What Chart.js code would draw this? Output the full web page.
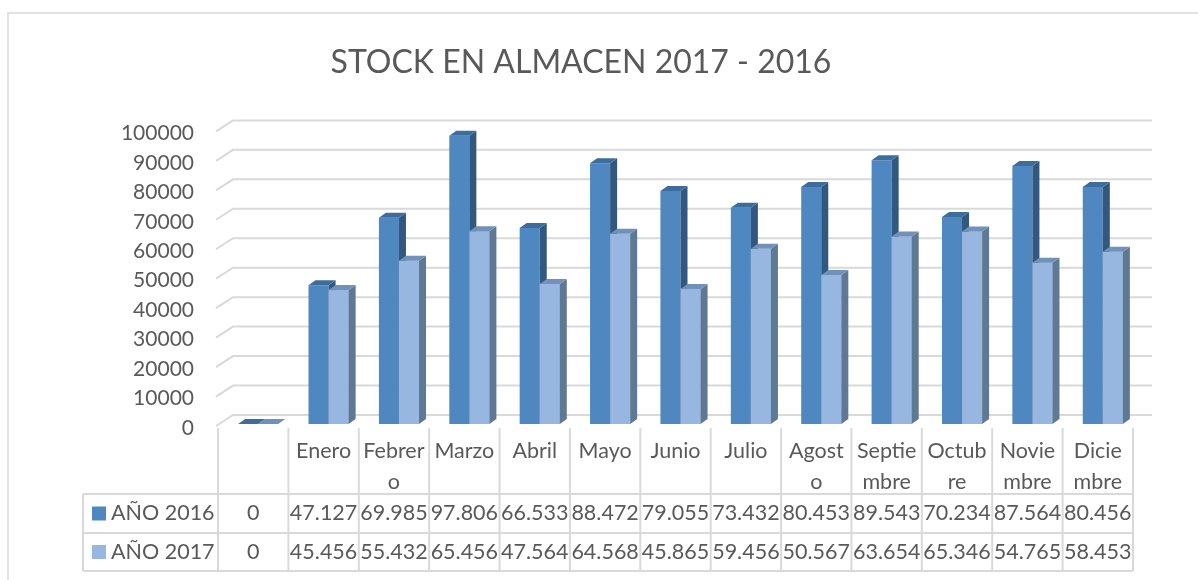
<!DOCTYPE html>
<html>
<head>
<meta charset="utf-8">
<title>Stock en almacén 2017 - 2016</title>
<script src="https://cdn.jsdelivr.net/npm/chart.js@4.4.1/dist/chart.umd.min.js"></script>
<style>
  html, body { margin: 0; padding: 0; background: #fff; }
</style>
</head>
<body>
<canvas id="stockChart" width="1198" height="580"></canvas>
<script>
const categories = ['', 'Enero', ['Febrer', 'o'], 'Marzo', 'Abril', 'Mayo', 'Junio', 'Julio',
    ['Agost', 'o'], ['Septie', 'mbre'], ['Octub', 're'], ['Novie', 'mbre'], ['Dicie', 'mbre']];
const stock2016 = [0, 47127, 69985, 97806, 66533, 88472, 79055, 73432, 80453, 89543, 70234, 87564, 80456];
const stock2017 = [0, 45456, 55432, 65456, 47564, 64568, 45865, 59456, 50567, 63654, 65346, 54765, 58453];
const seriesNames = ['AÑO 2016', 'AÑO 2017'];
const yMin = 0;
const yMax = 100000;
const yStep = 10000;

const FONT = 'Lato, "Open Sans", sans-serif';
const TEXT = '#595959';
const LINE = '#d9d9d9';

// colours for front / top / side of the 3D columns
const shades = [
    { front: '#4f87c0', top: '#3e6c9b', side: '#31587e' },
    { front: '#98b7e0', top: '#7291b8', side: '#5f7995' }
];

// thousands separator as in the Spanish table (47.127)
function fmt(v) {
    return String(v).replace(/\B(?=(\d{3})+(?!\d))/g, '.');
}

// outer frame of the chart object
const framePlugin = {
    id: 'frame',
    beforeDraw(chart) {
        const ctx = chart.ctx;
        ctx.save();
        ctx.strokeStyle = LINE;
        ctx.lineWidth = 1.5;
        ctx.strokeRect(8, 13, 1300, 700);
        ctx.restore();
    }
};

// back wall gridlines with the little perspective step on the left
const wallPlugin = {
    id: 'wall',
    beforeDatasetsDraw(chart) {
        const ctx = chart.ctx;
        const y = chart.scales.y;
        const area = chart.chartArea;
        ctx.save();
        ctx.strokeStyle = LINE;
        ctx.lineWidth = 2;
        y.ticks.forEach(t => {
            const py = y.getPixelForValue(t.value);
            ctx.beginPath();
            ctx.moveTo(area.left - 7, py + 2);
            ctx.lineTo(area.left + 10, py - 9);
            ctx.lineTo(area.right + 14, py - 9);
            ctx.stroke();
        });
        ctx.restore();
    }
};

// top and side faces for every column
const depthPlugin = {
    id: 'depth',
    afterDatasetsDraw(chart) {
        const ctx = chart.ctx;
        const dx = 7, dy = 5;
        const m0 = chart.getDatasetMeta(0);
        const m1 = chart.getDatasetMeta(1);

        function faces(bar, c, redrawFront) {
            const l = bar.x - bar.width / 2;
            const r = bar.x + bar.width / 2;
            const top = bar.y;
            const base = bar.base;
            if (redrawFront) {
                ctx.fillStyle = c.front;
                ctx.fillRect(l, top, r - l, base - top);
            }
            // side
            ctx.fillStyle = c.side;
            ctx.beginPath();
            ctx.moveTo(r, top);
            ctx.lineTo(r + dx, top - dy);
            ctx.lineTo(r + dx, base - dy);
            ctx.lineTo(r, base);
            ctx.closePath();
            ctx.fill();
            // top
            ctx.fillStyle = c.top;
            ctx.beginPath();
            ctx.moveTo(l, top);
            ctx.lineTo(r, top);
            ctx.lineTo(r + dx, top - dy);
            ctx.lineTo(l + dx, top - dy);
            ctx.closePath();
            ctx.fill();
        }

        ctx.save();
        for (let i = 0; i < categories.length; i++) {
            faces(m0.data[i], shades[0], false);
            faces(m1.data[i], shades[1], true);
        }
        ctx.restore();
    }
};

// data table under the plot (replaces the category axis and legend)
const tablePlugin = {
    id: 'dataTable',
    afterDraw(chart) {
        const ctx = chart.ctx;
        const x = chart.scales.x;
        const n = categories.length;
        const colW = (x.right - x.left) / n;
        const shift = 5;
        const tableLeft = x.left - shift;
        const tableRight = tableLeft + n * colW;
        const headTop = 428;
        const rowTops = [494, 533];
        const tableBottom = 571;
        const keyLeft = 83;
        const series = [stock2016, stock2017];

        ctx.save();
        ctx.strokeStyle = LINE;
        ctx.lineWidth = 2;
        // column dividers
        for (let i = 0; i <= n; i++) {
            const cx = tableLeft + i * colW;
            ctx.beginPath();
            ctx.moveTo(cx, headTop);
            ctx.lineTo(cx, tableBottom);
            ctx.stroke();
        }
        // row lines
        rowTops.concat([tableBottom]).forEach(ry => {
            ctx.beginPath();
            ctx.moveTo(keyLeft, ry);
            ctx.lineTo(tableRight, ry);
            ctx.stroke();
        });
        ctx.beginPath();
        ctx.moveTo(keyLeft, rowTops[0]);
        ctx.lineTo(keyLeft, tableBottom);
        ctx.stroke();

        ctx.fillStyle = TEXT;
        ctx.font = '21.5px ' + FONT;
        ctx.textBaseline = 'middle';
        ctx.textAlign = 'center';

        // header: category names
        categories.forEach((c, i) => {
            const cx = x.getPixelForValue(i) - shift;
            const lines = Array.isArray(c) ? c : [c];
            lines.forEach((ln, k) => ctx.fillText(ln, cx, 451 + k * 31));
        });

        // value rows with legend keys
        series.forEach((vals, s) => {
            const cy = (rowTops[s] + (s + 1 < rowTops.length ? rowTops[s + 1] : tableBottom)) / 2;
            ctx.fillStyle = shades[s].front;
            ctx.fillRect(92, cy - 7, 14, 14);
            ctx.fillStyle = TEXT;
            ctx.textAlign = 'left';
            ctx.fillText(seriesNames[s], 111, cy);
            ctx.textAlign = 'center';
            vals.forEach((v, i) => {
                ctx.fillText(fmt(v), x.getPixelForValue(i) - shift, cy);
            });
        });
        ctx.restore();
    }
};

const ctx = document.getElementById('stockChart').getContext('2d');
const stockChart = new Chart(ctx, {
    type: 'bar',
    data: {
        labels: categories,
        datasets: [{
            label: seriesNames[0],
            data: stock2016,
            backgroundColor: shades[0].front,
            borderWidth: 0
        }, {
            label: seriesNames[1],
            data: stock2017,
            backgroundColor: shades[1].front,
            borderWidth: 0
        }]
    },
    options: {
        responsive: false,
        animation: false,
        categoryPercentage: 0.57,
        barPercentage: 1.0,
        layout: {
            padding: { left: 24, right: 60, top: 0, bottom: 156 }
        },
        scales: {
            x: {
                display: false
            },
            y: {
                min: yMin,
                max: yMax,
                border: { display: false },
                grid: { display: false, drawTicks: false },
                ticks: {
                    stepSize: yStep,
                    padding: 29,
                    labelOffset: 4,
                    color: TEXT,
                    font: { family: FONT, size: 21 },
                    callback: v => String(v)
                },
                afterFit(scale) {
                    scale.width = 199;
                }
            }
        },
        plugins: {
            legend: { display: false },
            tooltip: { enabled: false },
            title: {
                display: true,
                text: 'STOCK EN ALMACEN 2017 - 2016',
                color: TEXT,
                font: { family: FONT, size: 32, weight: 'normal', lineHeight: 1.2 },
                padding: { top: 43, bottom: 48 }
            }
        }
    },
    plugins: [framePlugin, wallPlugin, depthPlugin, tablePlugin]
});
</script>
</body>
</html>
